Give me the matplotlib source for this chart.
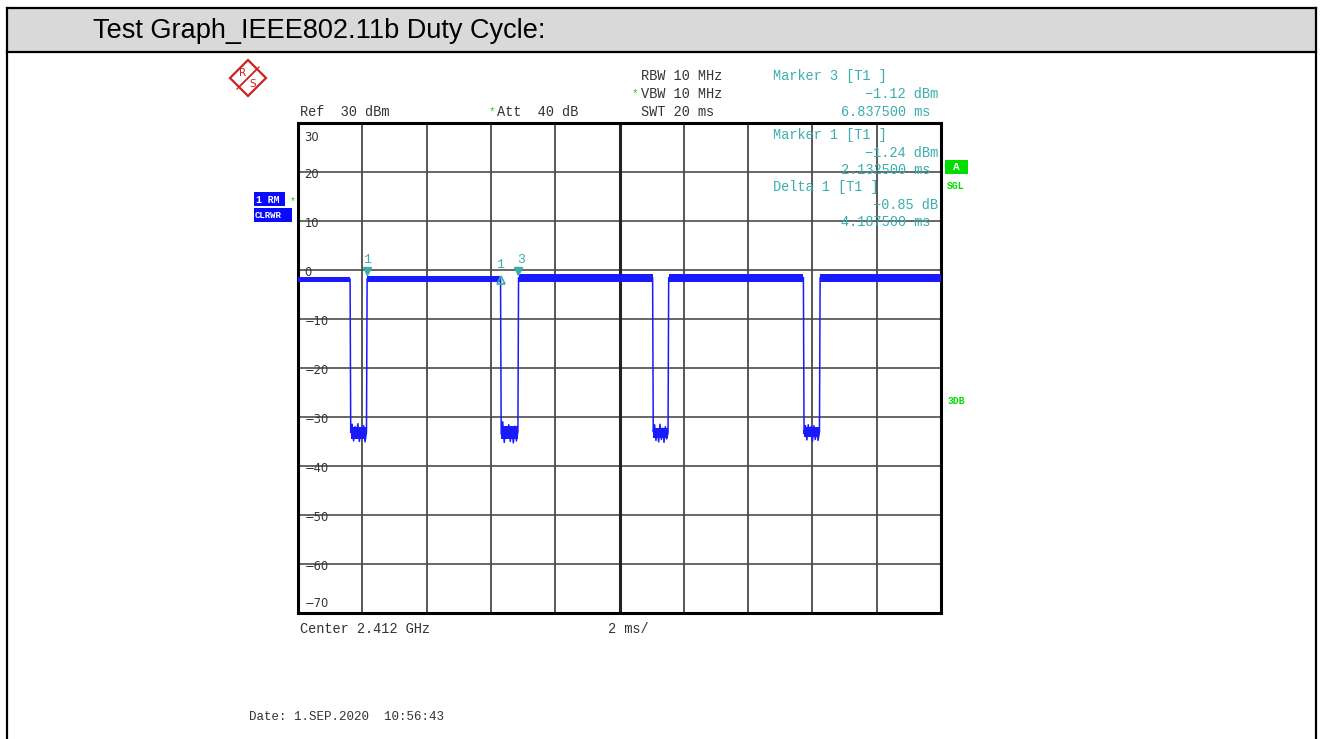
import matplotlib.pyplot as plt
from matplotlib.patches import Rectangle, Polygon
import numpy as np

W, H = 1322, 739

# --- screen data ---
sweep_ms = [0, 20]
level_dbm = [-70, 30]
ytick_vals = [30, 20, 10, 0, -10, -20, -30, -40, -50, -60, -70]
xdiv_ms = 2

# burst gaps (trace drops to the noise floor)
gap_start_ms = [1.62, 6.30, 11.03, 15.72]
gap_end_ms = [2.15, 6.86, 11.53, 16.24]

# "on" level band per segment (5 segments between/around the gaps)
on_top_dbm = [-1.4, -1.3, -0.9, -0.8, -0.8]
on_bot_dbm = [-2.4, -2.4, -2.4, -2.5, -2.5]
on_mid_dbm = [-1.9, -1.8, -1.6, -1.6, -1.6]

# noise floor band and samples inside each gap
floor_top_dbm = [-32.0, -31.8, -32.2, -32.1]
floor_bot_dbm = [-34.5, -34.6, -34.3, -34.2]
floor_dbm = [
    [-33.2, -31.5, -34.9, -32.0, -33.8, -31.4, -35.0, -32.4, -33.9, -31.8, -35.1, -33.1],
    [-33.5, -31.0, -35.2, -32.3, -34.2, -31.6, -35.0, -32.5, -35.3, -31.9, -34.9, -33.0],
    [-33.0, -31.6, -34.8, -32.6, -35.1, -31.5, -34.6, -32.3, -35.2, -32.0, -34.5, -33.2],
    [-33.4, -31.8, -34.7, -31.6, -33.7, -32.0, -35.0, -31.8, -34.6, -32.3, -34.8, -33.0],
]

marker1_ms, marker1_dbm = 2.1325, -1.24
marker3_ms, marker3_dbm = 6.8375, -1.12
delta1_ms, delta1_db = 4.1875, -0.85

marker_block = [
    ("Marker 3 [T1 ]", "\u22121.12 dBm", "6.837500 ms"),
    ("Marker 1 [T1 ]", "\u22121.24 dBm", "2.132500 ms"),
    ("Delta 1 [T1 ]", "\u22120.85 dB", "4.187500 ms"),
]

blue = '#1a1aff'
teal = '#3aaeae'
green = '#00dd00'
grey_txt = '#333333'
red = '#d02020'
mono = 'Liberation Mono'


def fx(x):
    return x / W


def fy(y):
    return 1 - y / H


fig = plt.figure(figsize=(W / 100, H / 100), dpi=100)

# outer frame + title band
fig.patches.append(Rectangle((fx(7), fy(52)), fx(1316) - fx(7), fy(8) - fy(52),
                             transform=fig.transFigure, facecolor='#d9d9d9',
                             edgecolor='none', zorder=0))
for (x0, y0, x1, y1) in [(7, 8, 1316, 8), (7, 52, 1316, 52), (7, 8, 7, 739), (1316, 8, 1316, 739)]:
    fig.add_artist(plt.Line2D([fx(x0), fx(x1)], [fy(y0), fy(y1)], color='black', lw=1.6))
fig.text(fx(93), fy(31), "Test Graph_IEEE802.11b Duty Cycle:", fontsize=19.5,
         family='Liberation Sans', va='center', ha='left')

# R&S logo
cx, cy, r = 248, 78, 18
fig.add_artist(Polygon([(fx(cx - r), fy(cy)), (fx(cx), fy(cy - r)), (fx(cx + r), fy(cy)), (fx(cx), fy(cy + r))],
                       closed=True, fill=False, edgecolor=red, lw=1.6, transform=fig.transFigure))
for k in (-2, 0, 2):
    fig.add_artist(plt.Line2D([fx(cx - 9 + k), fx(cx + 9 + k)], [fy(cy + 9 - k), fy(cy - 9 - k)],
                              color=red, lw=0.9))
fig.text(fx(cx - 5), fy(cy - 5), "R", color=red, fontsize=7.5, ha='center', va='center')
fig.text(fx(cx + 5), fy(cy + 6), "S", color=red, fontsize=7.5, ha='center', va='center')

# header texts
fig.text(fx(641), fy(76), "RBW 10 MHz", family=mono, fontsize=9.8, color=grey_txt, va='center')
fig.text(fx(632), fy(93), "*", family=mono, fontsize=8, color=green, va='center')
fig.text(fx(641), fy(94), "VBW 10 MHz", family=mono, fontsize=9.8, color=grey_txt, va='center')
fig.text(fx(641), fy(112), "SWT 20 ms", family=mono, fontsize=9.8, color=grey_txt, va='center')
fig.text(fx(300), fy(112), "Ref  30 dBm", family=mono, fontsize=9.8, color=grey_txt, va='center')
fig.text(fx(489), fy(111), "*", family=mono, fontsize=8, color=green, va='center')
fig.text(fx(497), fy(112), "Att  40 dB", family=mono, fontsize=9.8, color=grey_txt, va='center')

rows_y = [(76, 94, 112), (135, 153, 170), (187, 205, 222)]
for (title, val, t), (y0, y1, y2) in zip(marker_block, rows_y):
    fig.text(fx(773), fy(y0), title, family=mono, fontsize=9.8, color=teal, va='center', zorder=5)
    fig.text(fx(938), fy(y1), val, family=mono, fontsize=9.8, color=teal, va='center', ha='right', zorder=5)
    fig.text(fx(930), fy(y2), t, family=mono, fontsize=9.8, color=teal, va='center', ha='right', zorder=5)

# side labels
fig.patches.append(Rectangle((fx(254), fy(206)), fx(31), fy(192) - fy(206), transform=fig.transFigure,
                             facecolor='#0a0aff', edgecolor='none'))
fig.patches.append(Rectangle((fx(254), fy(222)), fx(38), fy(208) - fy(222), transform=fig.transFigure,
                             facecolor='#0a0aff', edgecolor='none'))
fig.text(fx(256), fy(200), "1 RM", color='white', fontsize=7, family=mono, va='center', weight='bold')
fig.text(fx(290), fy(201), "*", color=green, fontsize=7, family=mono, va='center')
fig.text(fx(255), fy(215), "CLRWR", color='white', fontsize=6.5, family=mono, va='center', weight='bold')

fig.patches.append(Rectangle((fx(945), fy(174)), fx(23), fy(160) - fy(174), transform=fig.transFigure,
                             facecolor=green, edgecolor='none'))
fig.text(fx(956.5), fy(167), "A", color='white', fontsize=8, family=mono, va='center', ha='center', weight='bold')
fig.text(fx(947), fy(186), "SGL", color=green, fontsize=7, family=mono, va='center', weight='bold')
fig.text(fx(948), fy(401), "3DB", color=green, fontsize=7, family=mono, va='center', weight='bold')

# bottom texts
fig.text(fx(300), fy(629), "Center 2.412 GHz", family=mono, fontsize=9.8, color=grey_txt, va='center')
fig.text(fx(608), fy(629), "2 ms/", family=mono, fontsize=9.8, color=grey_txt, va='center')
fig.text(fx(249), fy(717), "Date: 1.SEP.2020  10:56:43", family=mono, fontsize=9, color=grey_txt, va='center')

# --- plot area ---
ax = fig.add_axes([fx(298), fy(613), fx(941) - fx(298), fy(122.7) - fy(613)])
ax.set_xlim(*sweep_ms)
ax.set_ylim(*level_dbm)
ax.set_xticks([])
ax.set_yticks([])
for s in ax.spines.values():
    s.set_linewidth(2.2)
    s.set_color('black')

for v in ytick_vals[1:-1]:
    ax.axhline(v, color='#5a5a5a', lw=1.3, zorder=1)
for t in np.arange(sweep_ms[0] + xdiv_ms, sweep_ms[1], xdiv_ms):
    mid = abs(t - 10) < 1e-9
    ax.axvline(t, color='#222222' if mid else '#4a4a4a', lw=2.2 if mid else 1.3, zorder=1)

for v in ytick_vals:
    lab = str(v).replace('-', '\u2212')
    yy = v - 0.6
    if v == ytick_vals[0]:
        yy = v - 3.1
    if v == ytick_vals[-1]:
        yy = v + 2.0
    ax.text(0.2, yy, lab, fontsize=8.3, color=grey_txt, ha='left', va='center', zorder=3)

# trace
seg_edges = [sweep_ms[0]] + [e for pair in zip(gap_start_ms, gap_end_ms) for e in pair] + [sweep_ms[1]]
xs, ys = [], []
for i in range(len(on_mid_dbm)):
    a, b = seg_edges[2 * i], seg_edges[2 * i + 1]
    ax.fill_between([a, b], on_bot_dbm[i], on_top_dbm[i], color=blue, lw=0, zorder=4)
    xs += [a, b]
    ys += [on_mid_dbm[i], on_mid_dbm[i]]
    if i < len(floor_dbm):
        fl = floor_dbm[i]
        g0, g1 = gap_start_ms[i] + 0.02, gap_end_ms[i] - 0.02
        ax.fill_between([g0, g1], floor_bot_dbm[i], floor_top_dbm[i], color=blue, lw=0, zorder=4)
        gx = np.linspace(g0, g1, len(fl))
        xs += list(gx)
        ys += fl
ax.plot(xs, ys, color=blue, lw=1.1, zorder=4)

# markers
ax.plot(marker1_ms, -0.3, marker='v', color=teal, ms=6, zorder=6)
ax.text(marker1_ms, 1.9, "1", color=teal, family=mono, fontsize=9.5, ha='center', va='center')
ax.plot(marker1_ms + delta1_ms, -2.1, marker='^', mfc='none', mec=teal, ms=6, mew=1.2, zorder=6)
ax.text(marker1_ms + delta1_ms - 0.05, 0.9, "1", color=teal, family=mono, fontsize=9.5, ha='center', va='center')
ax.plot(marker3_ms, -0.3, marker='v', color=teal, ms=6, zorder=6)
ax.text(marker3_ms + 0.1, 2.0, "3", color=teal, family=mono, fontsize=9.5, ha='center', va='center')

fig.savefig('out.png', dpi=100)
